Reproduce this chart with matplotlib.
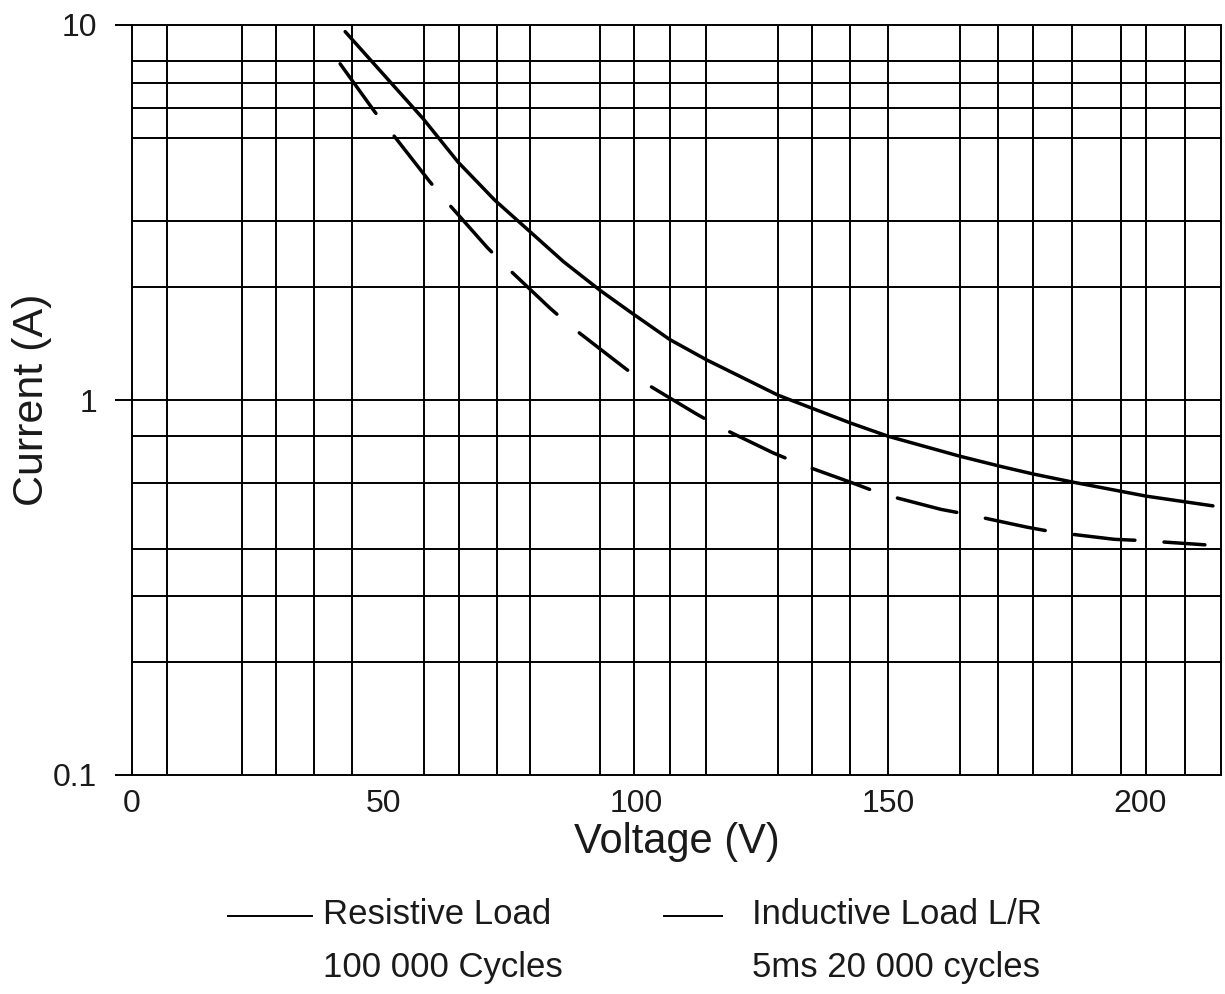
import numpy as np
import matplotlib
matplotlib.use("Agg")
import matplotlib.pyplot as plt
from matplotlib.lines import Line2D

# resistive load curve (solid)
res_v = [42.3, 57.8, 64.7, 72.0, 79.0, 85.6, 92.9, 98.8, 106.7, 114.0, 128.2,
         142.5, 150.1, 164.3, 172.2, 178.8, 186.4, 201.3, 214.5]
res_i = [9.6, 5.62, 4.31, 3.41, 2.81, 2.34, 1.96, 1.72, 1.45, 1.28, 1.03,
         0.869, 0.80, 0.708, 0.666, 0.635, 0.605, 0.554, 0.522]

# inductive load curve (dashed)
ind_v = [41.3, 48.2, 51.8, 59.1, 62.6, 70.5, 74.5, 83.1, 87.4, 97.0, 101.3,
         111.7, 116.3, 127.2, 132.4, 143.7, 148.7, 160.5, 165.6, 177.6, 183.1,
         195.0, 200.3, 212.9]
ind_i = [7.88, 5.86, 5.10, 3.82, 3.36, 2.55, 2.25, 1.75, 1.56, 1.24, 1.12,
         0.923, 0.851, 0.723, 0.676, 0.596, 0.562, 0.511, 0.496, 0.458, 0.444,
         0.425, 0.422, 0.411]

# grid lines as drawn on the sheet
grid_v = [6.9, 21.8, 28.6, 36.1, 43.7, 57.9, 64.9, 72.4, 79.0, 92.9, 99.6,
          106.7, 113.9, 128.2, 134.9, 142.5, 150.0, 164.3, 171.8, 178.8, 186.5,
          196.2, 201.2, 208.9]
grid_i = [0.2, 0.3, 0.4, 0.6, 0.8, 1, 2, 3, 5, 6, 7, 8]

x_ticks = [0, 50, 100, 150, 200]
y_ticks = [0.1, 1, 10]
y_ticklabels = ["0.1", "1", "10"]

legend_rows = [("Resistive Load", "100 000 Cycles"),
               ("Inductive Load L/R", "5ms 20 000 cycles")]

font = ["Liberation Sans", "DejaVu Sans"]
txt = "#1a1a1a"

fig = plt.figure(figsize=(12.25, 9.94), dpi=100)
W, H = 1225, 994
ax = fig.add_axes([132 / W, 1 - 775 / H, (1221 - 132) / W, (775 - 25) / H])
ax.set_yscale("log")
ax.set_xlim(0, 216.1)
ax.set_ylim(0.1, 10)

for v in grid_v:
    ax.axvline(v, color="black", lw=1.4, zorder=1)
for i in grid_i:
    ax.axhline(i, color="black", lw=1.4, zorder=1)

ax.plot(res_v, res_i, color="black", lw=2.5, solid_capstyle="round", zorder=3)
ax.plot(ind_v, ind_i, color="black", lw=2.5, linestyle=(0, (17.6, 8.4)),
        dash_capstyle="round", zorder=3)

for s in ax.spines.values():
    s.set_linewidth(1.4)

ax.set_xticks(x_ticks)
ax.set_xticklabels([str(t) for t in x_ticks], family=font, fontsize=23, color=txt)
ax.set_yticks(y_ticks)
ax.set_yticklabels(y_ticklabels, family=font, fontsize=23, color=txt)
ax.yaxis.set_minor_locator(matplotlib.ticker.NullLocator())
ax.tick_params(axis="x", length=0, pad=10)
ax.tick_params(axis="y", length=12, width=1.4, pad=13)

ax.set_xlabel("Voltage (V)", family=font, fontsize=30, color=txt)
ax.set_ylabel("Current (A)", family=font, fontsize=31, color=txt)
ax.xaxis.set_label_coords((677 - 132) / 1089, -(822 - 775) / 750)
ax.yaxis.set_label_coords(-(132 - 52) / 1089, 0.5)

# legend below the chart
fig.add_artist(Line2D([228 / W, 312 / W], [1 - 916 / H, 1 - 916 / H], color="black", lw=1.4))
fig.add_artist(Line2D([664 / W, 722 / W], [1 - 916 / H, 1 - 916 / H], color="black", lw=1.4))
for x0, (l1, l2) in zip([323, 752], legend_rows):
    fig.text(x0 / W, 1 - 915 / H, l1, family=font, fontsize=25, va="center", color=txt)
    fig.text(x0 / W, 1 - 967 / H, l2, family=font, fontsize=25, va="center", color=txt)

fig.savefig("out.png", dpi=100)
